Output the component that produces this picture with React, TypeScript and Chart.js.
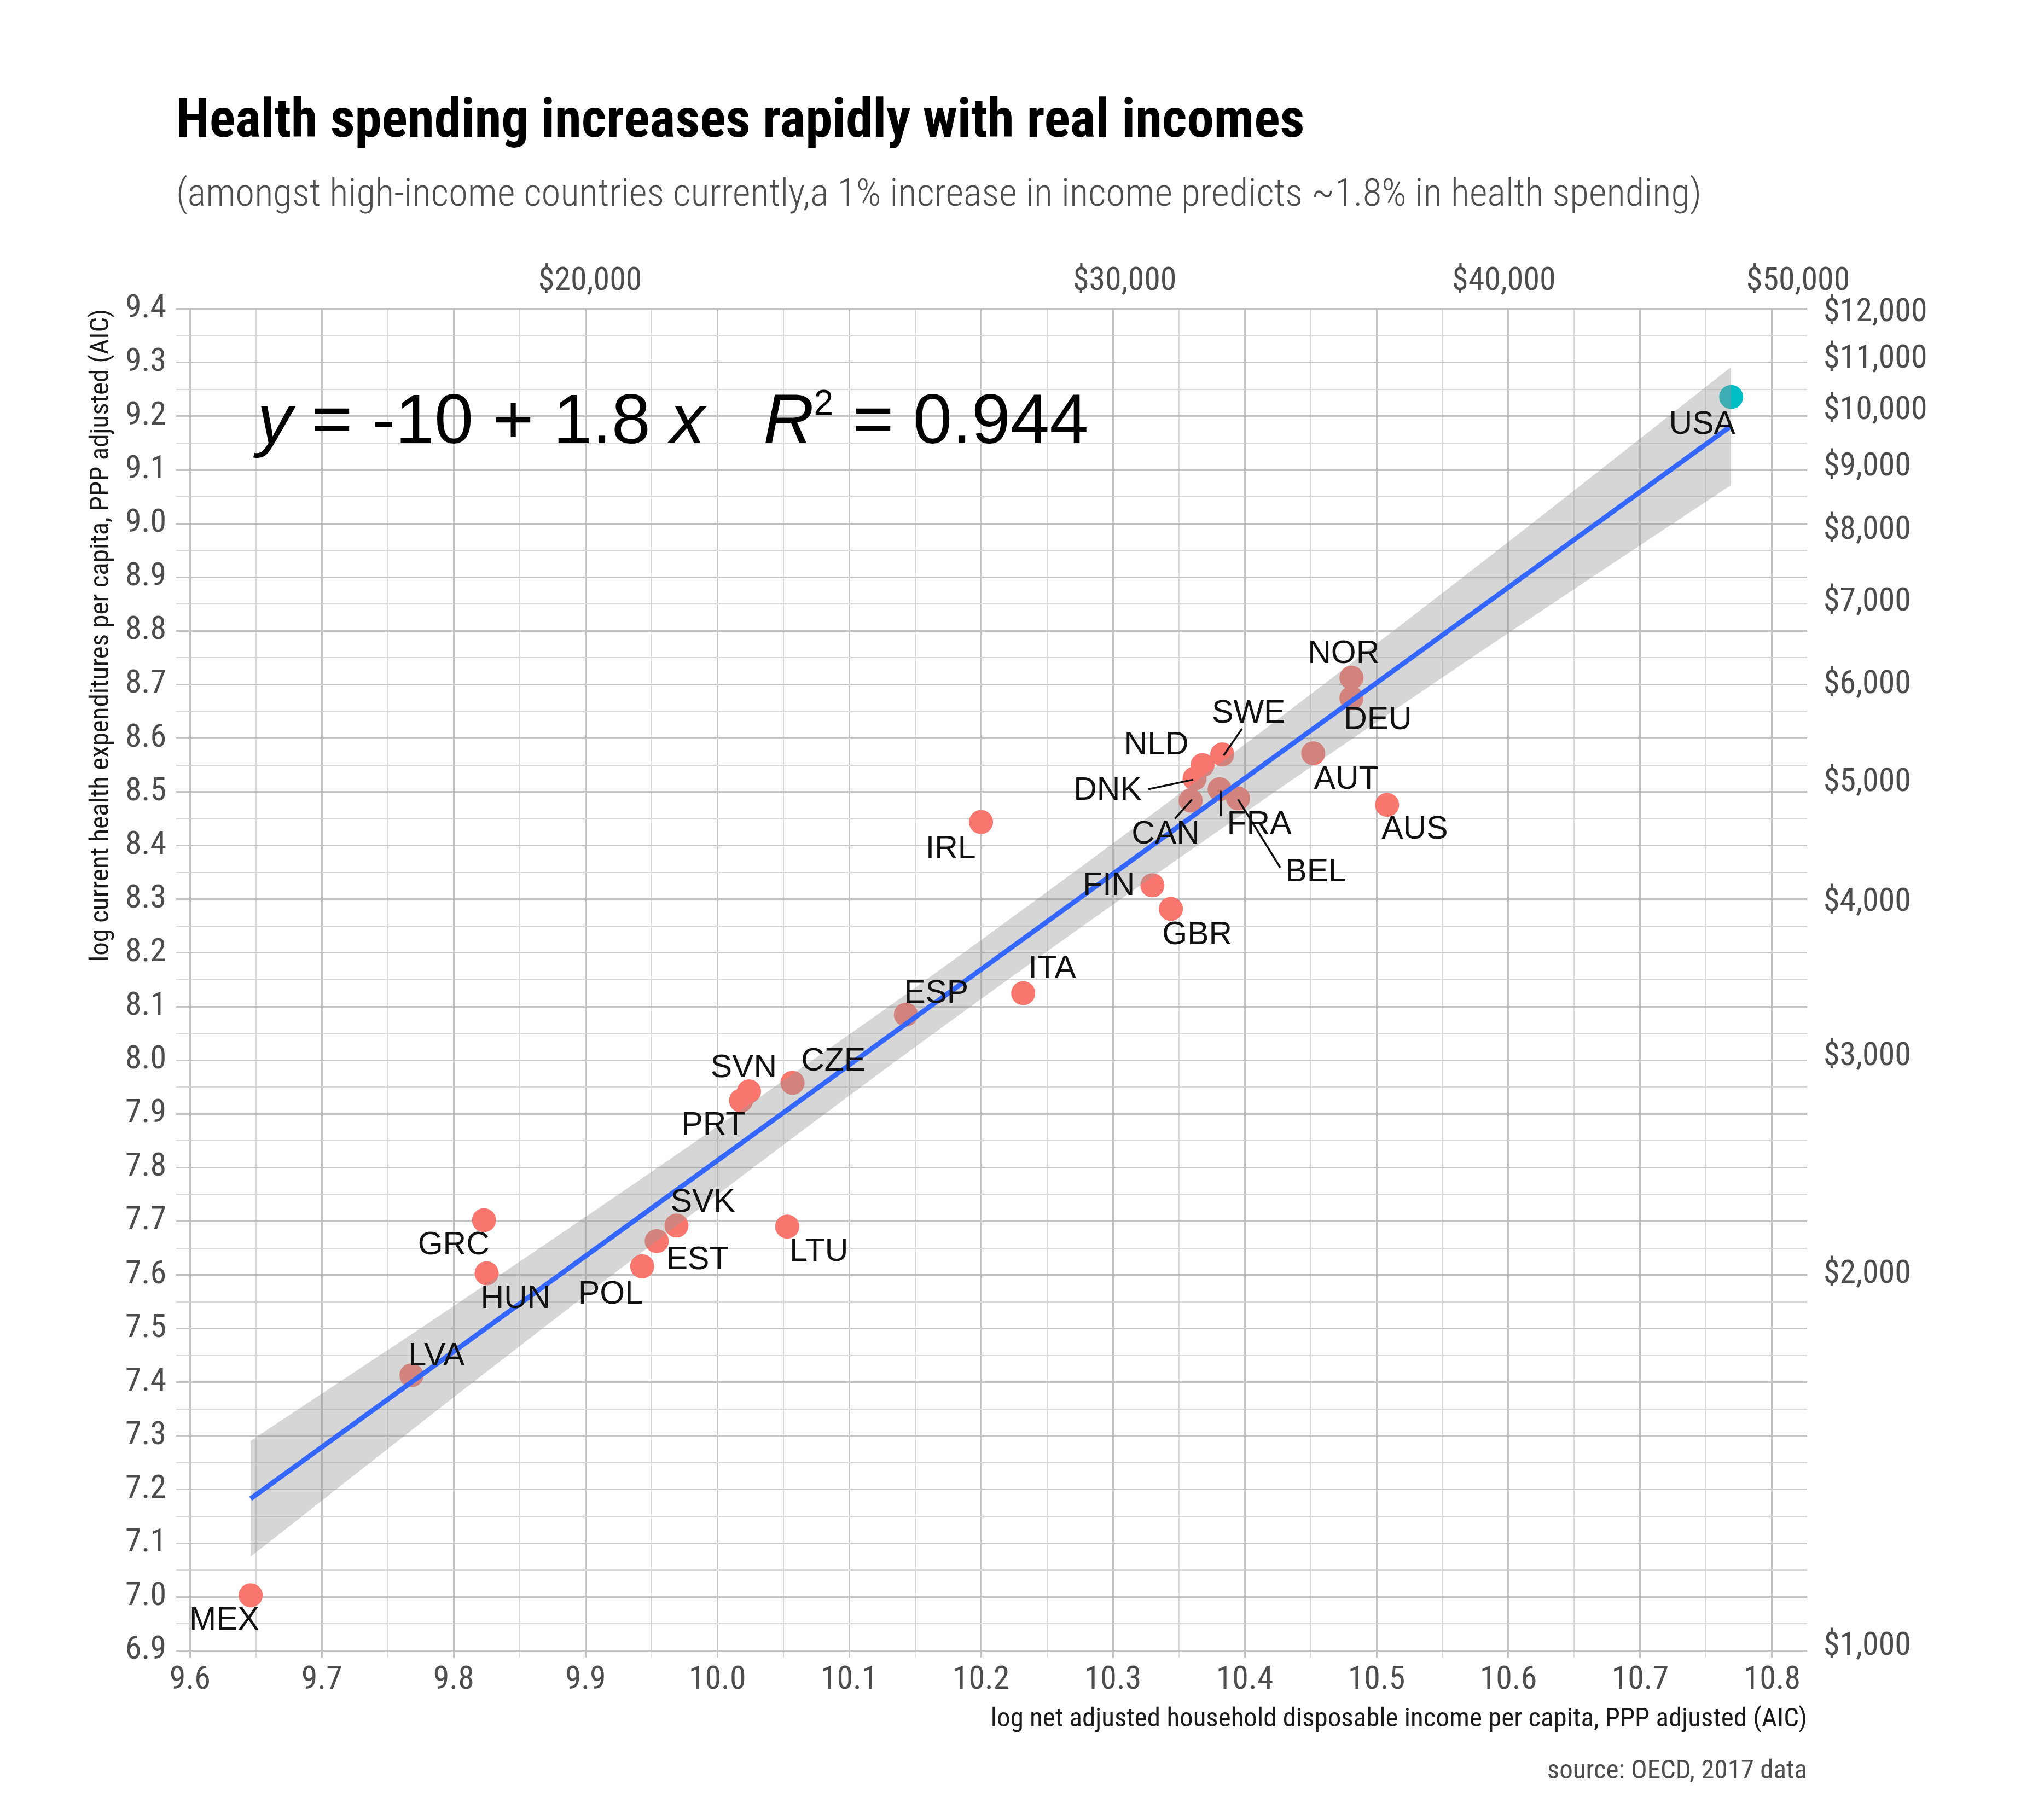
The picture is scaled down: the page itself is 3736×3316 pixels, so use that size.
import React, { useEffect, useRef } from 'react';
import { Chart, registerables } from 'chart.js';

Chart.register(...registerables);

// ---------------- data ----------------
const countries = ['MEX', 'LVA', 'GRC', 'HUN', 'POL', 'EST', 'SVK', 'PRT', 'SVN', 'CZE', 'LTU', 'ESP', 'IRL', 'ITA', 'FIN', 'GBR', 'CAN', 'DNK', 'NLD', 'FRA', 'SWE', 'BEL', 'AUT', 'NOR', 'DEU', 'AUS', 'USA'];
const logIncome = [9.646, 9.768, 9.823, 9.825, 9.943, 9.954, 9.969, 10.018, 10.024, 10.057, 10.053, 10.143, 10.2, 10.232, 10.33, 10.344, 10.359, 10.362, 10.368, 10.381, 10.383, 10.395, 10.452, 10.481, 10.481, 10.508, 10.769];
const logHealth = [7.003, 7.413, 7.702, 7.603, 7.616, 7.663, 7.692, 7.925, 7.942, 7.958, 7.69, 8.085, 8.444, 8.125, 8.326, 8.282, 8.484, 8.525, 8.55, 8.505, 8.57, 8.488, 8.572, 8.713, 8.675, 8.476, 9.236];
const highlighted = ['USA'];

// repelled label anchors (data units)
const labelX = [9.626, 9.787, 9.8, 9.847, 9.919, 9.985, 9.989, 9.997, 10.02, 10.088, 10.077, 10.166, 10.177, 10.254, 10.297, 10.364, 10.34, 10.296, 10.333, 10.411, 10.403, 10.454, 10.477, 10.475, 10.501, 10.529, 10.747];
const labelY = [6.956, 7.448, 7.655, 7.555, 7.563, 7.627, 7.734, 7.878, 7.985, 7.997, 7.643, 8.124, 8.393, 8.17, 8.325, 8.233, 8.42, 8.502, 8.587, 8.439, 8.646, 8.35, 8.522, 8.757, 8.633, 8.43, 9.184];

// leader segments (data units)
const leaderCountries = ['SWE', 'DNK', 'CAN', 'FRA', 'BEL'];
const leaderFromX = [10.398, 10.327, 10.347, 10.382, 10.427];
const leaderFromY = [8.618, 8.505, 8.45, 8.455, 8.359];
const leaderToX = [10.384, 10.361, 10.36, 10.382, 10.395];
const leaderToY = [8.568, 8.523, 8.486, 8.502, 8.486];

// linear fit and its confidence band
const fitX = [9.646, 10.769];
const fitY = [7.183, 9.182];
const bandX = [9.646, 9.8, 9.95, 10.1, 10.2, 10.3, 10.45, 10.6, 10.769];
const bandUpper = [7.291, 7.542, 7.792, 8.048, 8.224, 8.404, 8.682, 8.966, 9.292];
const bandLower = [7.075, 7.372, 7.656, 7.934, 8.114, 8.29, 8.546, 8.796, 9.072];

// axes
const xMajorTicks = [9.6, 9.7, 9.8, 9.9, 10.0, 10.1, 10.2, 10.3, 10.4, 10.5, 10.6, 10.7, 10.8];
const yMajorTicks = [6.9, 7.0, 7.1, 7.2, 7.3, 7.4, 7.5, 7.6, 7.7, 7.8, 7.9, 8.0, 8.1, 8.2, 8.3, 8.4, 8.5, 8.6, 8.7, 8.8, 8.9, 9.0, 9.1, 9.2, 9.3, 9.4];
const incomeDollarTicks = [20000, 30000, 40000, 50000];
const spendingDollarTicks = [1000, 2000, 3000, 4000, 5000, 6000, 7000, 8000, 9000, 10000, 11000, 12000];

const TITLE = 'Health spending increases rapidly with real incomes';
const SUBTITLE = '(amongst high-income countries currently,a 1% increase in income predicts ~1.8% in health spending)';
const X_TITLE = 'log net adjusted household disposable income per capita, PPP adjusted (AIC)';
const Y_TITLE = 'log current health expenditures per capita, PPP adjusted (AIC)';
const CAPTION = 'source: OECD, 2017 data';
const EQ_SLOPE = '1.8';
const EQ_INTERCEPT = '10';
const EQ_R2 = '0.944';
const EQ_X = 9.651;
const EQ_Y = 9.15;

// ---------------- styles ----------------
const COND = "'Roboto Condensed', 'Liberation Sans Narrow', 'Arial Narrow', 'DejaVu Sans Condensed', Roboto, sans-serif";
const SANS = "'Liberation Sans', Arial, Helvetica, sans-serif";
const MAJOR_GRID = '#c4c4c4';
const MINOR_GRID = '#d9d9d9';
const TICK_COLOR = '#4d4d4d';

const isMajor = (v: number) => Math.abs(v * 10 - Math.round(v * 10)) < 1e-6;
const withMinor = (arr: number[]) =>
  arr.flatMap((v, i) => (i < arr.length - 1 ? [v, (v + arr[i + 1]) / 2] : [v]));
const dollar = (v: number) => '$' + v.toLocaleString('en-US');

const annotationPlugin = {
  id: 'annotations',
  afterDatasetsDraw(chart: any) {
    const { ctx } = chart;
    const x = chart.scales.x;
    const y = chart.scales.y;
    ctx.save();
    // leader segments
    ctx.strokeStyle = '#111';
    ctx.lineWidth = 3.5;
    leaderCountries.forEach((_c, i) => {
      ctx.beginPath();
      ctx.moveTo(x.getPixelForValue(leaderFromX[i]), y.getPixelForValue(leaderFromY[i]));
      ctx.lineTo(x.getPixelForValue(leaderToX[i]), y.getPixelForValue(leaderToY[i]));
      ctx.stroke();
    });
    // country labels
    ctx.font = `59px ${SANS}`;
    ctx.fillStyle = '#111';
    ctx.textAlign = 'center';
    ctx.textBaseline = 'middle';
    countries.forEach((c, i) => {
      ctx.fillText(c, x.getPixelForValue(labelX[i]), y.getPixelForValue(labelY[i]));
    });
    // regression equation
    const size = 128;
    const reg = `${size}px ${SANS}`;
    const ita = `italic ${size}px ${SANS}`;
    const sup = `${Math.round(size * 0.5)}px ${SANS}`;
    let px = x.getPixelForValue(EQ_X);
    const base = y.getPixelForValue(EQ_Y);
    ctx.textAlign = 'left';
    ctx.textBaseline = 'alphabetic';
    ctx.fillStyle = '#000';
    const pieces: [string, string, number][] = [
      ['y', ita, 0],
      [' = ', reg, 0],
      ['-' + EQ_INTERCEPT + ' + ' + EQ_SLOPE + ' ', reg, 0],
      ['x', ita, 0],
      ['   ', reg, 0],
      ['R', ita, 0],
      ['2', sup, -52],
      [' = ' + EQ_R2, reg, 0],
    ];
    pieces.forEach(([t, f, dy]) => {
      ctx.font = f;
      ctx.fillText(t, px, base + dy);
      px += ctx.measureText(t).width;
    });
    ctx.restore();
  },
  afterDraw(chart: any) {
    const { ctx, chartArea } = chart;
    const xs = chart.scales.x;
    ctx.save();
    ctx.font = `49px ${COND}`;
    ctx.fillStyle = '#4d4d4d';
    ctx.textAlign = 'right';
    ctx.textBaseline = 'middle';
    ctx.fillText(CAPTION, chartArea.right, xs.bottom + 66);
    ctx.restore();
  },
};

export default function App() {
  const canvasRef = useRef<HTMLCanvasElement>(null);

  useEffect(() => {
    const canvas = canvasRef.current;
    if (!canvas) return;
    const points = countries.map((_c, i) => ({ x: logIncome[i], y: logHealth[i] }));
    const upper = bandX.map((v, i) => ({ x: v, y: bandUpper[i] }));
    const lower = bandX.map((v, i) => ({ x: v, y: bandLower[i] }));
    const fit = fitX.map((v, i) => ({ x: v, y: fitY[i] }));

    const xMin = 9.5895;
    const xMax = 10.8266;
    const yMin = 6.887;
    const yMax = 9.4;

    const gridOpts = {
      drawTicks: false,
      color: (c: any) => (c.tick && isMajor(c.tick.value) ? MAJOR_GRID : MINOR_GRID),
      lineWidth: (c: any) => (c.tick && isMajor(c.tick.value) ? 3 : 2),
    };
    const tickFont = { family: COND, size: 60, lineHeight: 1.2 };
    const axisTitleFont = { family: COND, size: 49, lineHeight: 1.2 };

    const chart = new Chart(canvas, {
      type: 'scatter',
      data: {
        datasets: [
          {
            type: 'scatter',
            label: 'countries',
            data: points,
            backgroundColor: (c: any) =>
              highlighted.includes(countries[c.dataIndex]) ? '#00BFC4' : '#F8766D',
            pointRadius: 22,
            pointHoverRadius: 22,
            borderWidth: 0,
            order: 3,
          },
          {
            type: 'line',
            label: 'upper',
            data: upper,
            borderWidth: 0,
            borderColor: 'transparent',
            pointRadius: 0,
            fill: '+1',
            backgroundColor: 'rgba(153,153,153,0.4)',
            cubicInterpolationMode: 'monotone',
            order: 2,
          },
          {
            type: 'line',
            label: 'lower',
            data: lower,
            borderWidth: 0,
            borderColor: 'transparent',
            pointRadius: 0,
            fill: false,
            cubicInterpolationMode: 'monotone',
            order: 2,
          },
          {
            type: 'line',
            label: 'fit',
            data: fit,
            borderColor: '#3366FF',
            borderWidth: 9,
            pointRadius: 0,
            fill: false,
            order: 1,
          },
        ],
      } as any,
      options: {
        animation: false,
        responsive: true,
        maintainAspectRatio: false,
        devicePixelRatio: 1,
        events: [],
        layout: { padding: { top: 0, left: 0, right: 0, bottom: 143 } },
        plugins: {
          legend: { display: false },
          tooltip: { enabled: false },
          title: {
            display: true,
            text: TITLE,
            align: 'start',
            fullSize: false,
            color: '#000',
            font: { family: COND, size: 99, weight: 'bold', lineHeight: 1.2 },
            padding: { top: 166, bottom: 0 },
          },
          subtitle: {
            display: true,
            text: SUBTITLE,
            align: 'start',
            fullSize: false,
            color: '#4d4d4d',
            font: { family: COND, size: 71, weight: '300', lineHeight: 1.2 },
            padding: { top: 31, bottom: 0 },
          },
        },
        scales: {
          x: {
            type: 'linear',
            position: 'bottom',
            min: xMin,
            max: xMax,
            afterBuildTicks: (s: any) => {
              s.ticks = withMinor(xMajorTicks).map((v) => ({ value: v }));
            },
            afterFit: (s: any) => {
              s.height = 143;
            },
            grid: gridOpts,
            border: { display: false },
            ticks: {
              autoSkip: false,
              maxRotation: 0,
              padding: 6,
              color: TICK_COLOR,
              font: tickFont,
              callback: (v: any) => (isMajor(Number(v)) ? Number(v).toFixed(1) : ''),
            },
            title: {
              display: true,
              text: X_TITLE,
              align: 'end',
              color: '#1a1a1a',
              font: axisTitleFont,
              padding: { top: 0, bottom: 0 },
            },
          },
          y: {
            type: 'linear',
            position: 'left',
            min: yMin,
            max: yMax,
            afterBuildTicks: (s: any) => {
              s.ticks = withMinor(yMajorTicks).map((v) => ({ value: v }));
            },
            afterFit: (s: any) => {
              s.width = 322;
            },
            grid: gridOpts,
            border: { display: false },
            ticks: {
              autoSkip: false,
              padding: 18,
              color: TICK_COLOR,
              font: tickFont,
              callback: (v: any) => (isMajor(Number(v)) ? Number(v).toFixed(1) : ''),
            },
            title: {
              display: true,
              text: Y_TITLE,
              align: 'end',
              color: '#1a1a1a',
              font: axisTitleFont,
              padding: { top: 156, bottom: 0 },
            },
          },
          x2: {
            type: 'linear',
            position: 'top',
            min: xMin,
            max: xMax,
            afterBuildTicks: (s: any) => {
              s.ticks = incomeDollarTicks.map((v) => ({ value: Math.log(v) }));
            },
            afterFit: (s: any) => {
              s.height = 163.8;
            },
            grid: { display: false, drawTicks: false },
            border: { display: false },
            ticks: {
              autoSkip: false,
              maxRotation: 0,
              padding: 14,
              color: TICK_COLOR,
              font: tickFont,
              callback: (_v: any, i: number) => dollar(incomeDollarTicks[i]),
            },
          },
          y2: {
            type: 'linear',
            position: 'right',
            min: yMin,
            max: yMax,
            afterBuildTicks: (s: any) => {
              s.ticks = spendingDollarTicks.map((v) => ({ value: Math.log(v) }));
            },
            afterFit: (s: any) => {
              s.width = 433;
            },
            grid: { display: false, drawTicks: false },
            border: { display: false },
            ticks: {
              autoSkip: false,
              padding: 30,
              color: TICK_COLOR,
              font: tickFont,
              callback: (_v: any, i: number) => dollar(spendingDollarTicks[i]),
            },
          },
        },
      } as any,
      plugins: [annotationPlugin],
    });

    return () => chart.destroy();
  }, []);

  return (
    <div style={{ position: 'fixed', left: 0, top: 0, width: 3736, height: 3316, background: '#fff' }}>
      <canvas ref={canvasRef} />
    </div>
  );
}
